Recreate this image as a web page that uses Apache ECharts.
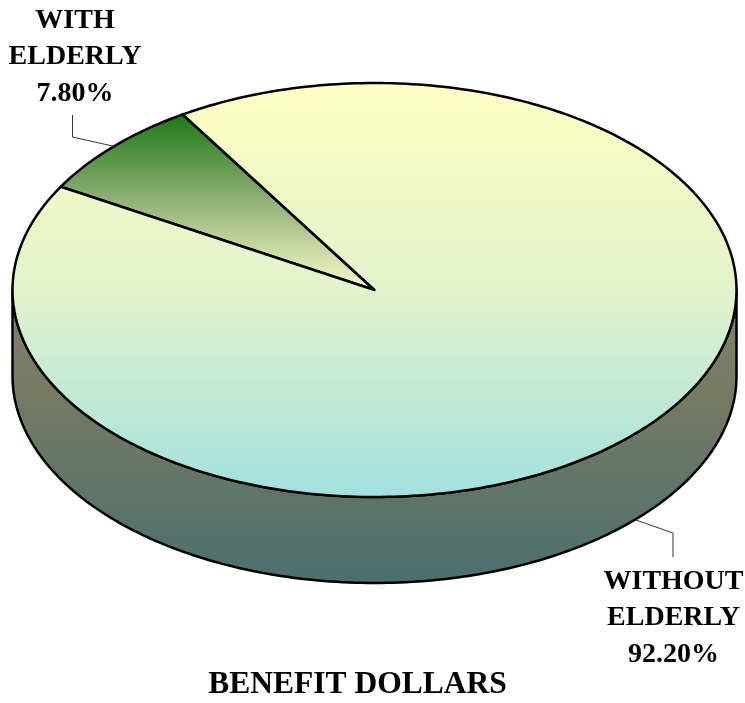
<!DOCTYPE html>
<html>
<head>
<meta charset="utf-8">
<script src="https://cdn.jsdelivr.net/npm/echarts@6/dist/echarts.min.js"></script>
<style>
  html, body { margin: 0; padding: 0; background: #fff; }
  #chart { width: 745px; height: 703px; }
</style>
</head>
<body>
<div id="chart"></div>
<script>
// Share of benefit dollars by household type
const categories = ['WITH\nELDERLY', 'WITHOUT\nELDERLY'];
const shares = [7.8, 92.2];
const chartTitle = 'BENEFIT DOLLARS';

// Tilted-disc geometry (pixels / degrees)
const CX = 374.5, CY = 290, RX = 362, RY = 207, DEPTH = 86;
const START_ANGLE = 122;          // counter-clockwise, 0 = right
const FONT = 'bold 28px "Liberation Serif", "Times New Roman", serif';

const total = shares.reduce((a, b) => a + b, 0);
const cumulative = shares.map((_, i) => shares.slice(0, i).reduce((a, b) => a + b, 0));

const topFills = [
  { type: 'linear', x: 0, y: 0, x2: 0, y2: 1, colorStops: [
    { offset: 0, color: '#1a7814' }, { offset: 0.45, color: '#88ab6e' }, { offset: 1, color: '#fbfbca' } ] },
  { type: 'linear', x: 0, y: 0, x2: 0, y2: 1, colorStops: [
    { offset: 0, color: '#ffffc2' }, { offset: 0.5, color: '#e2f3cb' }, { offset: 1, color: '#a2e0e0' } ] }
];
const sideFill = { type: 'linear', x: 0, y: 0, x2: 0, y2: 1, colorStops: [
  { offset: 0, color: '#84846a' }, { offset: 0.35, color: '#767a62' }, { offset: 1, color: '#4b6f6f' } ] };

// Label placement: elbow and text anchor for each slice
const labelLayout = [
  { elbow: [72.5, 137], end: [72.5, 115], text: [75, 2] },
  { elbow: [673, 533], end: [673, 557], text: [673.5, 563] }
];

function pt(deg, dy) {
  const r = deg * Math.PI / 180;
  return [CX + RX * Math.cos(r), CY - RY * Math.sin(r) + (dy || 0)];
}
function arc(a0, a1, dy) {
  const n = Math.max(2, Math.ceil(Math.abs(a1 - a0) / 1));
  const out = [];
  for (let k = 0; k <= n; k++) out.push(pt(a0 + (a1 - a0) * k / n, dy));
  return out;
}

function renderItem(params, api) {
  const i = params.dataIndex;
  const value = api.value(0);
  const a0 = START_ANGLE + cumulative[i] / total * 360;
  const a1 = a0 + value / total * 360;
  const mid = (a0 + a1) / 2;
  const children = [];

  // front wall: portion of the slice facing the viewer (180..360 deg)
  for (const base of [-360, 0, 360]) {
    const s = Math.max(a0, base + 180), e = Math.min(a1, base + 360);
    if (e > s) {
      const upper = arc(s, e, 0);
      const lower = arc(e, s, DEPTH);
      children.push({
        type: 'polygon', z2: 1,
        shape: { points: upper.concat(lower) },
        style: { fill: sideFill, stroke: '#000', lineWidth: 2.5, lineJoin: 'round' }
      });
    }
  }

  // top face
  children.push({
    type: 'polygon', z2: 2,
    shape: { points: [[CX, CY]].concat(arc(a0, a1, 0)) },
    style: { fill: topFills[i], stroke: '#000', lineWidth: 2.5, lineJoin: 'round' }
  });

  // leader line from the rim at the slice's middle angle
  const m = ((mid % 360) + 360) % 360;
  const onFront = m > 180 && m < 360;
  const start = pt(mid, onFront ? DEPTH : 0);
  const lay = labelLayout[i];
  children.push({
    type: 'polyline', z2: 3,
    shape: { points: [start, lay.elbow, lay.end] },
    style: { stroke: '#333', lineWidth: 1, fill: null }
  });

  const pct = (value / total * 100).toFixed(2) + '%';
  children.push({
    type: 'text', z2: 4,
    x: lay.text[0], y: lay.text[1],
    style: {
      text: categories[i] + '\n' + pct,
      font: FONT, fill: '#000', align: 'center', verticalAlign: 'top', lineHeight: 36.7
    }
  });

  return { type: 'group', children };
}

const chart = echarts.init(document.getElementById('chart'), null, { renderer: 'canvas' });
chart.setOption({
  animation: false,
  backgroundColor: '#ffffff',
  series: [{
    type: 'custom',
    coordinateSystem: 'none',
    renderItem,
    data: shares.map((v, i) => [v, i])
  }],
  graphic: [{
    type: 'text',
    x: 357.5, y: 685,
    style: {
      text: chartTitle,
      font: 'bold 31.5px "Liberation Serif", "Times New Roman", serif',
      fill: '#000', align: 'center', verticalAlign: 'middle'
    }
  }]
});
</script>
</body>
</html>
